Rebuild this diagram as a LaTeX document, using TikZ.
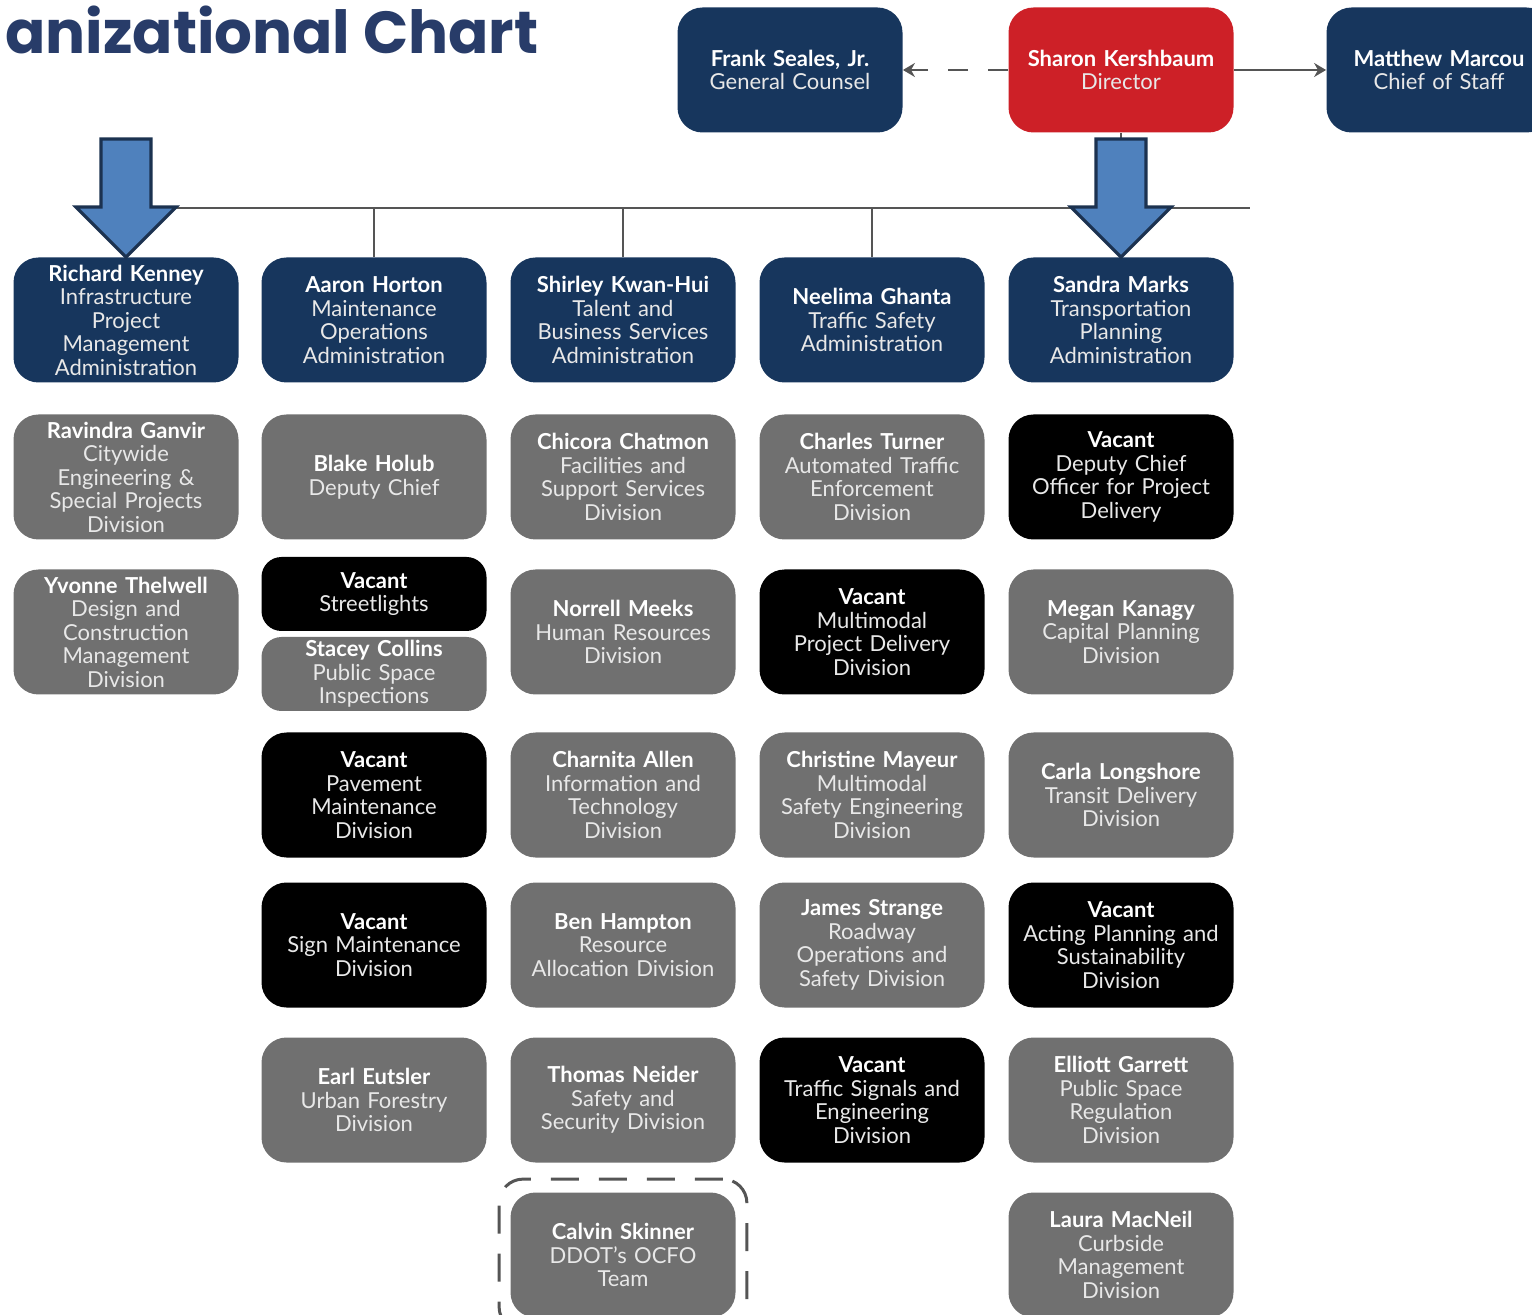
\documentclass[tikz,border=0pt]{standalone}
\usepackage{fontspec}
\setmainfont{Lato}
\newfontfamily\titlefont{Poppins}
\usetikzlibrary{arrows.meta,fit}
\definecolor{ddnavy}{RGB}{23,54,93}
\definecolor{ddred}{RGB}{205,32,39}
\definecolor{ddgray}{RGB}{112,112,112}
\definecolor{ddblue}{RGB}{79,129,189}
\definecolor{ddedge}{RGB}{28,50,80}
\definecolor{ddtitle}{RGB}{40,60,105}
\definecolor{ddline}{RGB}{85,85,85}
\definecolor{ddsoft}{RGB}{232,232,232}
\newcommand\who[2]{\textcolor{white}{\textbf{#1}}\\#2}

\begin{document}
\begin{tikzpicture}[x=0.5pt,y=-0.5pt,>={Stealth[length=6pt,width=7pt]},
  card/.style={rounded corners=12.5pt,minimum width=112.5pt,minimum height=62.5pt,
    text width=108pt,align=center,inner sep=0pt,text=ddsoft,
    font=\fontsize{11}{11.75}\selectfont},
  navybox/.style={card,fill=ddnavy},
  redbox/.style={card,fill=ddred},
  graybox/.style={card,fill=ddgray},
  blackbox/.style={card,fill=black},
  halfbox/.style={minimum height=37pt,rounded corners=10pt},
  bigarrow/.style={fill=ddblue,draw=ddedge,line width=1.6pt,line join=miter},
  link/.style={draw=ddline,line width=0.9pt}]
 \useasboundingbox (0,0) rectangle (1532,1315);
 \clip (0,0) rectangle (1532,1315);
 \node[anchor=base west,inner sep=0pt,text=ddtitle,font=\titlefont\bfseries\fontsize{29.7}{31}\selectfont]
   (title) at (5,54) {anizational Chart};

 \node[navybox] (seales) at (790,70) {\who{Frank Seales, Jr.}{General Counsel}};
 \node[redbox] (kershbaum) at (1121,70) {\who{Sharon Kershbaum}{Director}};
 \node[navybox] (marcou) at (1439,70) {\who{Matthew Marcou}{Chief of Staff}};

 \node[navybox] (kenney) at (126,320) {\who{Richard Kenney}{Infrastructure\\Project\\Management\\Administration}};
 \node[navybox] (horton) at (374,320) {\who{Aaron Horton}{Maintenance\\Operations\\Administration}};
 \node[navybox] (kwanhui) at (623,320) {\who{Shirley Kwan-Hui}{Talent and\\Business Services\\Administration}};
 \node[navybox] (ghanta) at (872,320) {\who{Neelima Ghanta}{Traffic Safety\\Administration}};
 \node[navybox] (marks) at (1121,320) {\who{Sandra Marks}{Transportation\\Planning\\Administration}};

 \node[graybox] (ganvir) at (126,477) {\who{Ravindra Ganvir}{Citywide\\Engineering \&\\Special Projects\\Division}};
 \node[graybox] (thelwell) at (126,632) {\who{Yvonne Thelwell}{Design and\\Construction\\Management\\Division}};

 \node[graybox] (holub) at (374,477) {\who{Blake Holub}{Deputy Chief}};
 \node[blackbox,halfbox] (streetlights) at (374,594) {\who{Vacant}{Streetlights}};
 \node[graybox,halfbox] (collins) at (374,674) {\who{Stacey Collins}{Public Space\\Inspections}};
 \node[blackbox] (pavement) at (374,795) {\who{Vacant}{Pavement\\Maintenance\\Division}};
 \node[blackbox] (signs) at (374,945) {\who{Vacant}{Sign Maintenance\\Division}};
 \node[graybox] (eutsler) at (374,1100) {\who{Earl Eutsler}{Urban Forestry\\Division}};

 \node[graybox] (chatmon) at (623,477) {\who{Chicora Chatmon}{Facilities and\\Support Services\\Division}};
 \node[graybox] (meeks) at (623,632) {\who{Norrell Meeks}{Human Resources\\Division}};
 \node[graybox] (allen) at (623,795) {\who{Charnita Allen}{Information and\\Technology\\Division}};
 \node[graybox] (hampton) at (623,945) {\who{Ben Hampton}{Resource\\Allocation Division}};
 \node[graybox] (neider) at (623,1100) {\who{Thomas Neider}{Safety and\\Security Division}};
 \node[graybox] (skinner) at (623,1255) {\who{Calvin Skinner}{DDOT's OCFO\\Team}};

 \node[graybox] (turner) at (872,477) {\who{Charles Turner}{Automated Traffic\\Enforcement\\Division}};
 \node[blackbox] (delivery) at (872,632) {\who{Vacant}{Multimodal\\Project Delivery\\Division}};
 \node[graybox] (mayeur) at (872,795) {\who{Christine Mayeur}{Multimodal\\Safety Engineering\\Division}};
 \node[graybox] (strange) at (872,945) {\who{James Strange}{Roadway\\Operations and\\Safety Division}};
 \node[blackbox] (signals) at (872,1100) {\who{Vacant}{Traffic Signals and\\Engineering\\Division}};

 \node[blackbox] (deputy) at (1121,477) {\who{Vacant}{Deputy Chief\\Officer for Project\\Delivery}};
 \node[graybox] (kanagy) at (1121,632) {\who{Megan Kanagy}{Capital Planning\\Division}};
 \node[graybox] (longshore) at (1121,795) {\who{Carla Longshore}{Transit Delivery\\Division}};
 \node[blackbox] (sustain) at (1121,945) {\who{Vacant}{Acting Planning and\\Sustainability\\Division}};
 \node[graybox] (garrett) at (1121,1100) {\who{Elliott Garrett}{Public Space\\Regulation\\Division}};
 \node[graybox] (macneil) at (1121,1255) {\who{Laura MacNeil}{Curbside\\Management\\Division}};

 \node[fit=(skinner),inner xsep=5.5pt,inner ysep=6.5pt,draw=ddline,line width=1.5pt,
   dash pattern=on 14pt off 10pt,rounded corners=12pt] (ocfo) {};

 \coordinate (busL) at (126,208);
 \coordinate (busR) at (1250,208);
 \draw[link] (busL) -- (busR);
 \draw[link] (kershbaum.south) -- (kershbaum.south |- busL);
 \foreach \n in {horton,kwanhui,ghanta}
   {\draw[link] (\n.north) -- (\n.north |- busL);}
 \draw[link,->,dash pattern=on 10pt off 10pt] (kershbaum) -- (seales);
 \draw[link,->] (kershbaum) -- (marcou);

 \foreach \n in {kenney,marks}
   {\draw[bigarrow] (\n.north) -- ++(-50,-50) -- ++(25,0) -- ++(0,-68) -- ++(50,0)
      -- ++(0,68) -- ++(25,0) -- cycle;}
\end{tikzpicture}
\end{document}
